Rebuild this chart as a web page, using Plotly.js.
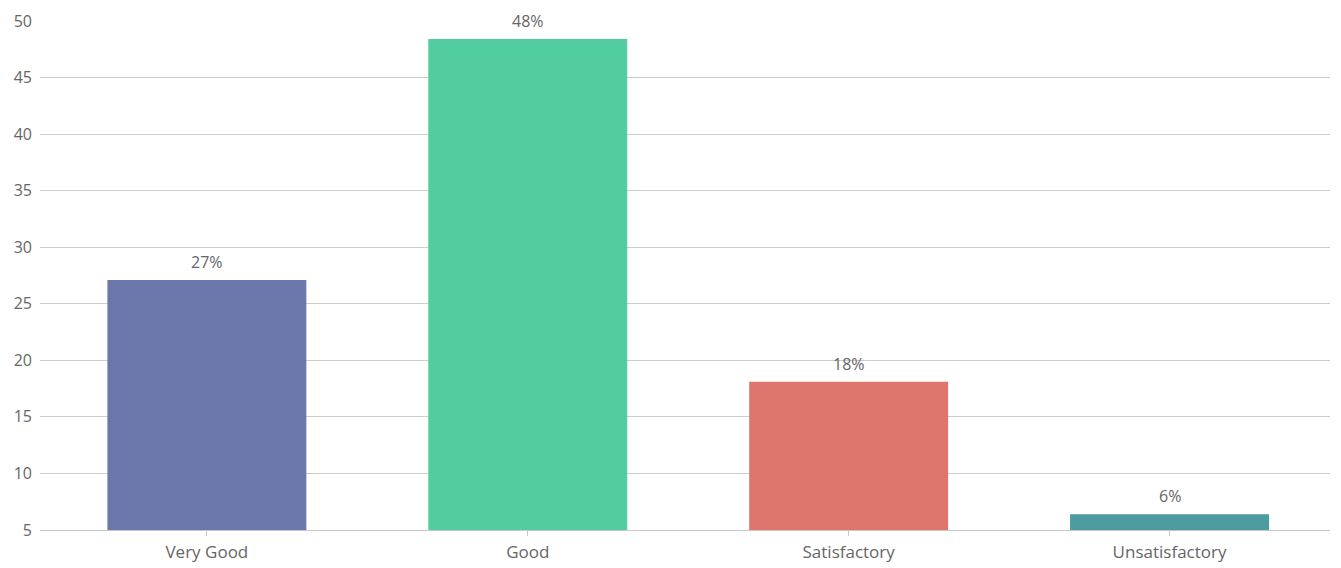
<!DOCTYPE html>
<html>
<head>
<meta charset="utf-8">
<script src="https://cdn.plot.ly/plotly-3.0.1.min.js"></script>
<style>html,body{margin:0;padding:0;background:#fff;}#chart{width:1341px;height:568px;}</style>
</head>
<body>
<div id="chart"></div>
<script>
const categories = ["Very Good", "Good", "Satisfactory", "Unsatisfactory"];
const values = [27.1, 48.4, 18.1, 6.4];
const labels = ["27%", "48%", "18%", "6%"];
const colors = ["#6c77ab", "#52cd9f", "#df766d", "#4b9b9f"];
const yTicks = [5, 10, 15, 20, 25, 30, 35, 40, 45, 50];

const trace = {
  type: "bar",
  x: categories,
  y: values,
  marker: {color: colors},
  width: 0.62,
  hoverinfo: "x+y"
};

const annotations = categories.map((c, i) => ({
  x: c,
  y: values[i],
  text: labels[i],
  showarrow: false,
  yanchor: "bottom",
  yshift: 5,
  font: {family: "Open Sans, sans-serif", size: 16, color: "#666"}
}));

const layout = {
  width: 1341,
  height: 568,
  margin: {l: 40, r: 11, t: 21, b: 38},
  paper_bgcolor: "#fff",
  plot_bgcolor: "#fff",
  showlegend: false,
  font: {family: "Open Sans, sans-serif", color: "#666"},
  annotations: annotations,
  xaxis: {
    type: "category",
    range: [-0.52, 3.5],
    showgrid: false,
    showline: true,
    linecolor: "#c8c8c8",
    linewidth: 1,
    ticks: "outside",
    ticklen: 5,
    tickcolor: "#c8c8c8",
    ticklabelstandoff: 2,
    tickfont: {size: 17, color: "#666"}
  },
  yaxis: {
    range: [5, 50],
    tickvals: yTicks,
    ticktext: yTicks.map(String),
    showgrid: true,
    gridcolor: "#cccccc",
    zeroline: false,
    showline: false,
    ticks: "",
    ticklabelstandoff: 7,
    tickfont: {size: 16, color: "#666"}
  }
};

Plotly.newPlot("chart", [trace], layout, {displayModeBar: false, staticPlot: true});
</script>
</body>
</html>
